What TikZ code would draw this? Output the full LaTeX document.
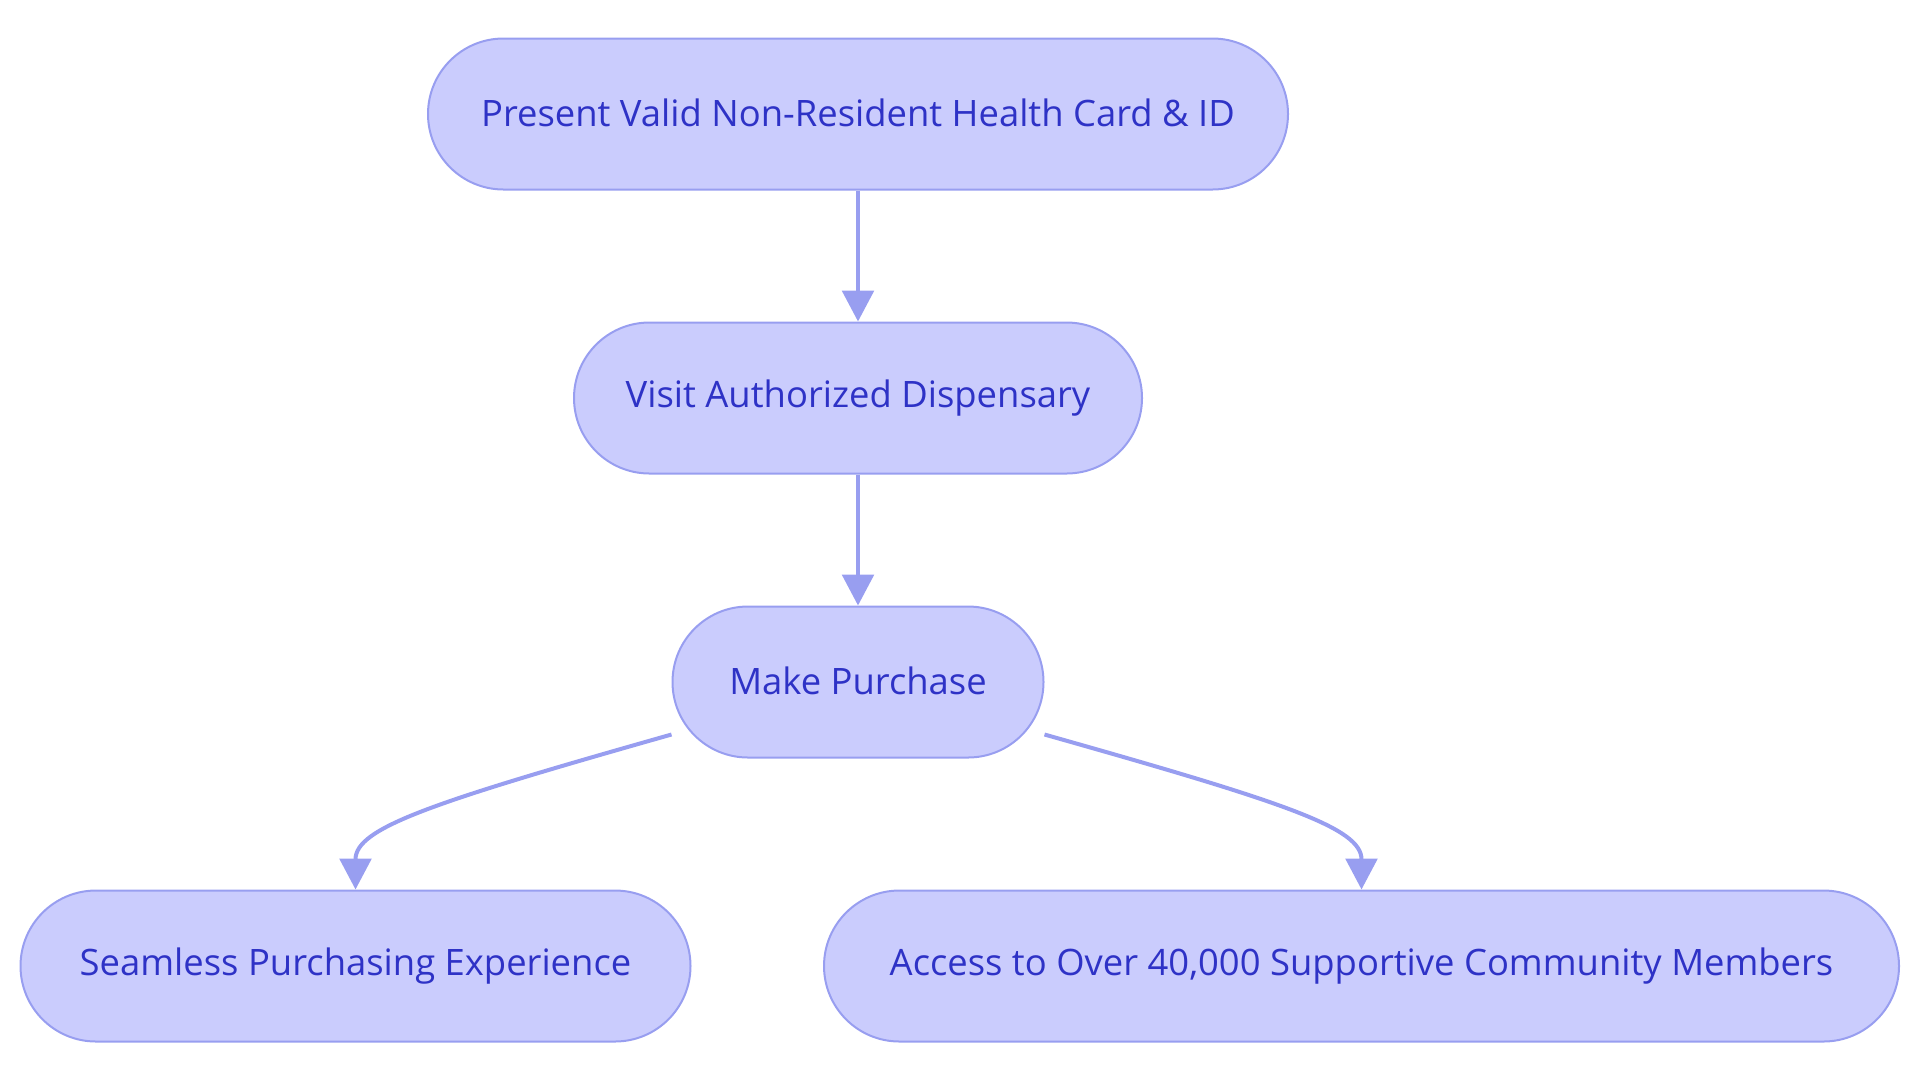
\documentclass[tikz,border=0pt]{standalone}
\usepackage{fontspec}
\setmainfont{Open Sans}
\usetikzlibrary{arrows.meta,calc}
\definecolor{nodefill}{RGB}{202,204,253}
\definecolor{nodeline}{RGB}{152,158,240}
\definecolor{nodetext}{RGB}{46,50,198}
\tikzset{
  stadium/.style={draw=nodeline, fill=nodefill, line width=1pt,
    rounded corners=37.75pt, minimum height=75.5pt, inner sep=0pt,
    text=nodetext, font=\fontsize{18.2pt}{22pt}\selectfont, anchor=center},
  edge/.style={draw=nodeline, line width=2pt,
    -{Triangle[length=15.5pt,width=15.8pt]}},
}
\begin{document}
\begin{tikzpicture}[x=0.5pt,y=-0.5pt]
\useasboundingbox (0,0) rectangle (1920,1083);
\node[stadium, minimum width=430pt] (n1) at (858,114) {\raisebox{1pt}{Present Valid Non-Resident Health Card \& ID}};
\node[stadium, minimum width=284pt] (n2) at (858,398) {\raisebox{1pt}{Visit Authorized Dispensary}};
\node[stadium, minimum width=185.5pt] (n3) at (858,682) {\raisebox{1pt}{Make Purchase}};
\node[stadium, minimum width=335pt] (n4) at (355.5,966) {\raisebox{1pt}{Seamless Purchasing Experience}};
\node[stadium, minimum width=537.5pt] (n5) at (1361.5,966) {\raisebox{1pt}{Access to Over 40,000 Supportive Community Members}};
\coordinate (l0) at ($(n3.south west)+(0,-24)$);
\coordinate (r0) at ($(n3.south east)+(0,-24)$);
\draw[edge] (n1.south) -- (n2.north);
\draw[edge] (n2.south) -- (n3.north);
\draw[edge] (l0) .. controls (430,803) and (355.5,828) .. (n4.north);
\draw[edge] (r0) .. controls (1287,803) and (1361.5,828) .. (n5.north);
\end{tikzpicture}
\end{document}
